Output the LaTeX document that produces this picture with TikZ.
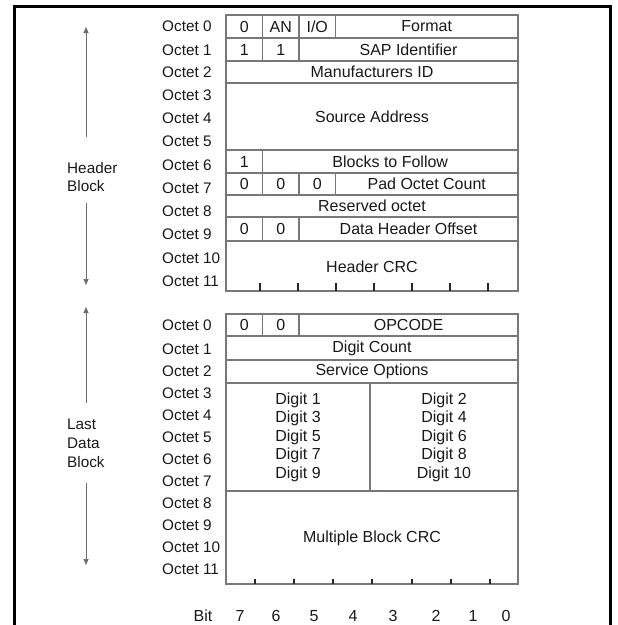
\documentclass[tikz,border=0pt]{standalone}
\usepackage{fontspec}
\setmainfont{Liberation Sans}
\usetikzlibrary{arrows.meta}
\definecolor{gridc}{RGB}{125,118,118}
\definecolor{arrc}{RGB}{110,110,110}
\newcommand{\bcell}[6]{%
  \draw[cell] (#2,#3) rectangle (#4,#5);
  \node[txt] (#1) at ({(#2+#4)/2},{(#3+#5)/2}) {#6};}
\begin{document}
\begin{tikzpicture}[x=1pt,y=-1pt,
  cell/.style={draw=gridc, line width=1.2pt},
  lbl/.style={font=\fontsize{15.3}{18}\selectfont, inner sep=0pt, anchor=west, text=black!90},
  txt/.style={font=\fontsize{16}{18.5}\selectfont, inner sep=0pt, align=center, text=black!90},
  tickmark/.style={draw=black!85, line width=1.3pt},
  spanarrow/.style={draw=arrc, line width=0.9pt, -{Triangle[length=6pt,width=5pt]}},
  frameline/.style={draw=black, line width=3pt}]
\useasboundingbox (0,0) rectangle (618,625);
\fill[white] (0,0) rectangle (618,625);
% frame
\draw[frameline] (14,630) -- (14,6.5) -- (610,6.5) -- (610,630);

% ---------- Header block ----------
\bcell{h0a}{226}{15}{262.5}{38}{0}
\bcell{h0b}{262.5}{15}{299}{38}{AN}
\bcell{h0c}{299}{15}{335.5}{38}{I/O}
\bcell{h0d}{335.5}{15}{518}{38}{Format}
\bcell{h1a}{226}{38}{262.5}{61}{1}
\bcell{h1b}{262.5}{38}{299}{61}{1}
\bcell{h1c}{299}{38}{518}{61}{SAP Identifier}
\bcell{h2}{226}{61}{518}{83}{Manufacturers ID}
\bcell{h3}{226}{83}{518}{150}{Source Address}
\bcell{h6a}{226}{150}{262.5}{173}{1}
\bcell{h6b}{262.5}{150}{518}{173}{Blocks to Follow}
\bcell{h7a}{226}{173}{262.5}{195}{0}
\bcell{h7b}{262.5}{173}{299}{195}{0}
\bcell{h7c}{299}{173}{335.5}{195}{0}
\bcell{h7d}{335.5}{173}{518}{195}{Pad Octet Count}
\bcell{h8}{226}{195}{518}{217}{Reserved octet}
\bcell{h9a}{226}{217}{262.5}{241}{0}
\bcell{h9b}{262.5}{217}{299}{241}{0}
\bcell{h9c}{299}{217}{518}{241}{Data Header Offset}
\draw[cell] (226,241) rectangle (518,291);
\node[txt] (h10) at (372,266.5) {Header CRC};
\foreach \x in {260,298,336,374,412,450,488}
  \draw[tickmark] (\x,282.5) -- (\x,291);

% header octet labels
\foreach \i/\y in {0/26,1/50,2/72.5,3/95.5,4/118,5/141,6/165,7/188,8/211.5,9/234,10/258,11/281}
  \node[lbl] (ho\i) at (162,\y) {Octet \i};

% ---------- Last data block ----------
\bcell{d0a}{226}{314}{262.5}{336}{0}
\bcell{d0b}{262.5}{314}{299}{336}{0}
\bcell{d0c}{299}{314}{518}{336}{OPCODE}
\bcell{d1}{226}{336}{518}{360}{Digit Count}
\bcell{d2}{226}{360}{518}{383}{Service Options}
\draw[cell] (226,383) rectangle (370,491);
\draw[cell] (370,383) rectangle (518,491);
\node[txt] (dl) at (298,437) {Digit 1\\Digit 3\\Digit 5\\Digit 7\\Digit 9};
\node[txt] (dr) at (444,437) {Digit 2\\Digit 4\\Digit 6\\Digit 8\\Digit 10};
\draw[cell] (226,491) rectangle (518,584);
\node[txt] (d8) at (372,538) {Multiple Block CRC};
\foreach \x in {255,294,333,372,412,451,490}
  \draw[tickmark] (\x,578.5) -- (\x,584);

\foreach \i/\y in {0/325,1/349,2/371.5,3/393,4/415,5/437,6/459,7/481,8/503,9/525.5,10/547.5,11/569}
  \node[lbl] (do\i) at (162,\y) {Octet \i};

% bit labels
\node[txt] (bit) at (203,616) {Bit};
\foreach \b/\x in {7/240,6/276,5/314,4/353,3/393,2/436,1/473,0/506}
  \node[txt] (b\b) at (\x,616) {\b};

% ---------- side labels and arrows ----------
\node[lbl, align=left] (hdr) at (67,177) {Header\\Block};
\node[lbl, align=left, font=\fontsize{15.3}{19}\selectfont] (ldb) at (67,443) {Last\\Data\\Block};
\coordinate (hu0) at (86,137);
\coordinate (hu1) at (86,27);
\coordinate (hd0) at (86,203);
\coordinate (hd1) at (86,285);
\coordinate (du0) at (86,403);
\coordinate (du1) at (86,307);
\coordinate (dd0) at (86,483);
\coordinate (dd1) at (86,565);
\draw[spanarrow] (hu0) -- (hu1);
\draw[spanarrow] (hd0) -- (hd1);
\draw[spanarrow] (du0) -- (du1);
\draw[spanarrow] (dd0) -- (dd1);
\end{tikzpicture}
\end{document}
